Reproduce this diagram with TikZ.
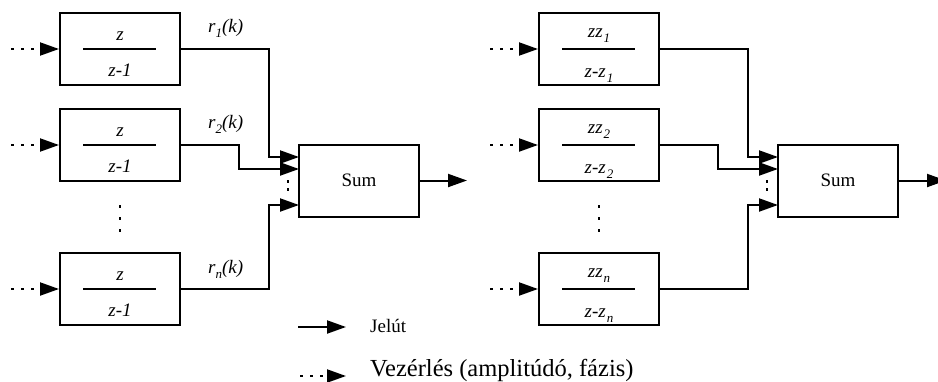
\documentclass[tikz,border=0pt]{standalone}
\usepackage{fontspec}
\setmainfont{Liberation Serif}
\usetikzlibrary{arrows.meta}
\newcommand{\fs}[1]{\fontsize{#1}{#1}\selectfont}
\newcommand{\sbs}[1]{\raisebox{-5pt}{\fs{13}#1}}
\begin{document}
\begin{tikzpicture}[x=1pt,y=-1pt,
 lw/.style={line width=2pt},
 blk/.style={draw,line width=2pt,minimum width=120pt,minimum height=72pt,inner sep=0pt},
 sig/.style={line width=2pt,-{Triangle[length=19pt,width=13pt]}},
 ctl/.style={line width=2pt,dash pattern=on 3pt off 7pt,-{Triangle[length=19pt,width=13pt]}},
 vdot/.style={line width=2pt,dash pattern=on 3pt off 9pt},
 sdot/.style={line width=2pt,dash pattern=on 3pt off 5pt},
 lab/.style={inner sep=0pt,anchor=base,font=\fs{19}\itshape},
 sumtxt/.style={font=\fs{19}},
]
\useasboundingbox (0,0) rectangle (938,381);

% ---------- left system ----------
\node[blk] (a1) at (120,49) {};
\node[blk] (a2) at (120,145) {};
\node[blk] (a3) at (120,289) {};
\node[blk,sumtxt] (as) at (359,180.5) {Sum};

\foreach \b in {a1,a2,a3}{
  \draw[lw] ([xshift=-37pt]\b.center) -- ([xshift=36pt]\b.center);
  \node[lab] (\b n) at ([yshift=9pt]\b.center) {z};
  \node[lab] (\b d) at ([yshift=-27pt]\b.center) {z-1};
}

\coordinate (ai1) at (11,49);
\coordinate (ai2) at (11,145);
\coordinate (ai3) at (11,289);
\draw[ctl] (ai1) -- (a1.west);
\draw[ctl] (ai2) -- (a2.west);
\draw[ctl] (ai3) -- (a3.west);

\coordinate (at1) at (299,157);
\coordinate (at2) at (299,169);
\coordinate (at3) at (299,205);
\coordinate (ao) at (467,180.5);
\draw[sig] (a1.east) -| ([xshift=-30pt]at1) -- (at1);
\draw[sig] (a2.east) -| ([xshift=-60pt]at2) -- (at2);
\draw[sig] (a3.east) -| ([xshift=-30pt]at3) -- (at3);
\draw[sig] (as.east) -- (ao);

\node[lab,anchor=base west] (r1) at (208,32) {r\sbs{1}(k)};
\node[lab,anchor=base west] (r2) at (208,128) {r\sbs{2}(k)};
\node[lab,anchor=base west] (rn) at (208,273) {r\sbs{n}(k)};

\draw[vdot] (120,205) -- (120,232);
\draw[sdot] (288,180) -- (288,192);

% ---------- right system ----------
\begin{scope}[xshift=479pt]
\node[blk] (b1) at (120,49) {};
\node[blk] (b2) at (120,145) {};
\node[blk] (b3) at (120,289) {};
\node[blk,sumtxt] (bs) at (359,180.5) {Sum};

\foreach \b/\k in {b1/1,b2/2,b3/n}{
  \draw[lw] ([xshift=-37pt]\b.center) -- ([xshift=36pt]\b.center);
  \node[lab] (\b n) at ([yshift=12pt]\b.center) {zz\kern1pt\sbs{\k}};
  \node[lab] (\b d) at ([yshift=-28pt]\b.center) {z-z\kern1pt\sbs{\k}};
}

\coordinate (bi1) at (11,49);
\coordinate (bi2) at (11,145);
\coordinate (bi3) at (11,289);
\draw[ctl] (bi1) -- (b1.west);
\draw[ctl] (bi2) -- (b2.west);
\draw[ctl] (bi3) -- (b3.west);

\coordinate (bt1) at (299,157);
\coordinate (bt2) at (299,169);
\coordinate (bt3) at (299,205);
\coordinate (bo) at (467,180.5);
\draw[sig] (b1.east) -| ([xshift=-30pt]bt1) -- (bt1);
\draw[sig] (b2.east) -| ([xshift=-60pt]bt2) -- (bt2);
\draw[sig] (b3.east) -| ([xshift=-30pt]bt3) -- (bt3);
\draw[sig] (bs.east) -- (bo);

\draw[vdot] (120,205) -- (120,232);
\draw[sdot] (288,180) -- (288,192);
\end{scope}

% ---------- legend ----------
\coordinate (l1a) at (298,327);
\coordinate (l1b) at (346,327);
\draw[sig] (l1a) -- (l1b);
\node[font=\fs{19},anchor=base west,inner sep=0pt] (l1t) at (370,332) {Jelút};
\coordinate (l2a) at (300,376);
\coordinate (l2b) at (346,376);
\draw[ctl] (l2a) -- (l2b);
\node[font=\fs{24.5},anchor=base west,inner sep=0pt] (l2t) at (370,376) {Vezérlés (amplitúdó, fázis)};
\end{tikzpicture}
\end{document}
